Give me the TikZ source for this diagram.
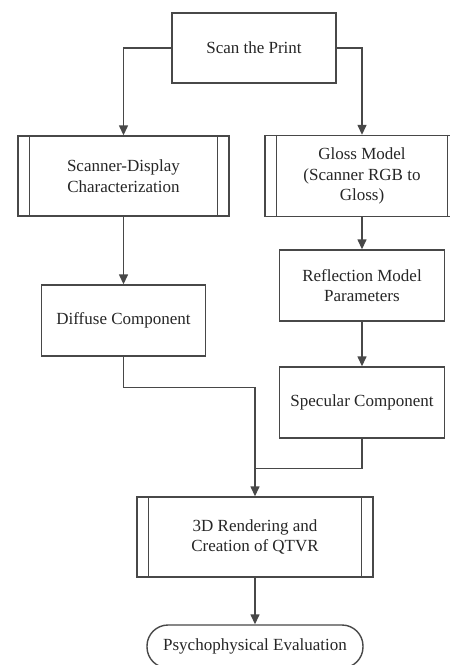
\documentclass[tikz,border=0pt]{standalone}
\usepackage{fontspec}
\setmainfont{Liberation Serif}
\usetikzlibrary{arrows.meta,calc}
\definecolor{ln}{HTML}{484848}
\definecolor{tx}{HTML}{262626}
\tikzset{
  box/.style={draw=ln, line width=1.4pt, rectangle, align=center, inner sep=0pt,
    font=\fontsize{17}{20.5}\selectfont, text=tx},
  pill/.style={box, rounded corners=21pt},
  conn/.style={draw=ln, line width=1.4pt},
  arr/.style={conn, -{Triangle[width=9pt,length=10pt]}},
  bar/.style={draw=ln, line width=1.4pt}
}
\begin{document}
\begin{tikzpicture}[x=1pt,y=-1pt]
\useasboundingbox (0,0) rectangle (450,665);
\clip (0,0) rectangle (450,665);
\fill[white] (0,0) rectangle (450,665);

\node[box, minimum width=164pt, minimum height=70pt] (scan) at (254,48) {Scan the Print};
\node[box, minimum width=211pt, minimum height=80pt] (sdc) at (123.5,176) {Scanner-Display\\Characterization};
\node[box, minimum width=194pt, minimum height=81pt] (gloss) at (362,176) {Gloss Model\\(Scanner RGB to\\Gloss)};
\node[box, minimum width=164pt, minimum height=71pt] (diff) at (123.5,320.5) {Diffuse Component};
\node[box, minimum width=165pt, minimum height=71pt] (refl) at (362,285.5) {Reflection Model\\Parameters};
\node[box, minimum width=165pt, minimum height=71pt] (spec) at (362,402.5) {Specular Component};
\node[box, minimum width=236pt, minimum height=80pt] (rend) at (255,537) {3D Rendering and\\Creation of QTVR};
\node[pill, minimum width=216pt, minimum height=43pt] (psy) at (255,646.5) {Psychophysical Evaluation};

% side bars of predefined-process boxes
\foreach \n in {sdc,gloss,rend} {
  \draw[bar] ([xshift=12pt]\n.north west) -- ([xshift=12pt]\n.south west);
  \draw[bar] ([xshift=-12pt]\n.north east) -- ([xshift=-12pt]\n.south east);
}

% connectors
\draw[arr] (scan.west) -| (sdc.north);
\draw[arr] (scan.east) -| (gloss.north);
\draw[arr] (sdc.south) -- (diff.north);
\draw[arr] (gloss.south) -- (refl.north);
\draw[arr] (refl.south) -- (spec.north);
\coordinate (j1) at ($(diff.south)+(0,31)$);
\coordinate (j2) at ($(spec.south)+(0,30)$);
\draw[conn] (spec.south) -- (j2) -- (j2 -| rend.north);
\draw[arr] (diff.south) -- (j1) -| (rend.north);
\draw[arr] (rend.south) -- (psy.north);
\end{tikzpicture}
\end{document}
